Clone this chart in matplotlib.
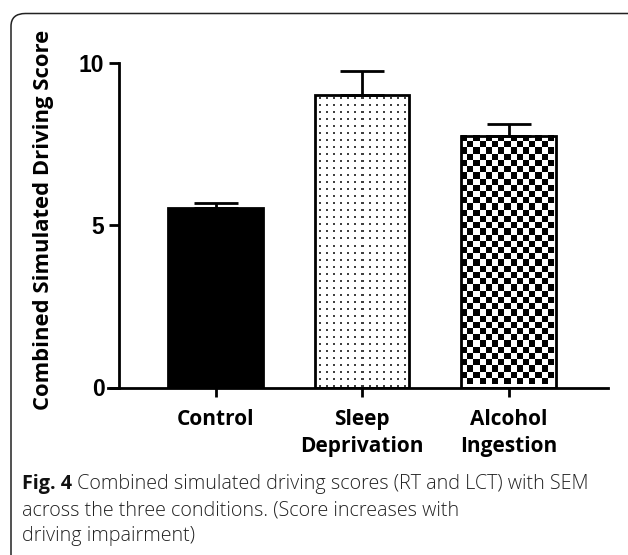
import numpy as np
import matplotlib
matplotlib.use("Agg")
import matplotlib.pyplot as plt
from matplotlib.patches import FancyBboxPatch

# data
conditions = ["Control", "Sleep\nDeprivation", "Alcohol\nIngestion"]
means = [5.52, 9.0, 7.73]
sem = [0.17, 0.75, 0.37]
yticks = [0, 5, 10]
ylabel = "Combined Simulated Driving Score"
cap_bold = "Fig. 4"
cap_rest = [" Combined simulated driving scores (RT and LCT) with SEM",
            "across the three conditions. (Score increases with",
            "driving impairment)"]

W, H, DPI = 628, 555, 100
fig = plt.figure(figsize=(W / DPI, H / DPI), dpi=DPI)

# rounded frame, right/bottom part runs off the picture
frame = FancyBboxPatch((11 / W, 1 - 570 / H), 640 / W, 556.5 / H,
                       boxstyle="round,pad=0,rounding_size=0.023",
                       transform=fig.transFigure, fill=False,
                       edgecolor="#222222", linewidth=1.1)
fig.patches.append(frame)

ax = fig.add_axes([108 / W, (H - 387.5) / H, 500 / W, 357.3 / H])
x = np.arange(len(conditions))
bw = 0.645
lw = 2.0

ax.set_xlim(-0.735, 2.678)
ax.set_ylim(0, 11)

bars = ax.bar(x, means, width=bw, color=["black", "none", "none"],
              edgecolor="black", linewidth=lw, zorder=2)
ax.errorbar(x, means, yerr=[np.zeros(len(sem)), sem], fmt="none",
            ecolor="black", elinewidth=lw, capsize=15.5, capthick=lw, zorder=2.5)

fig.canvas.draw()


def bar_pixels(b):
    (x0, y0), (x1, y1) = ax.transData.transform([(b.get_x(), b.get_y()),
                                                 (b.get_x() + b.get_width(), b.get_height())])
    return abs(x1 - x0), abs(y1 - y0)


# dotted fill for sleep deprivation
b = bars[1]
wpx, hpx = bar_pixels(b)
ny, nx = int(round(hpx)), int(round(wpx))
dots = np.ones((ny, nx))
step = 7
for r in range(3, ny - 1, step):
    for c in range(4, nx - 1, step):
        dots[r:r + 2, c:c + 2] = 0.25
ax.imshow(dots, cmap="gray", vmin=0, vmax=1, interpolation="nearest", aspect="auto",
          extent=(b.get_x(), b.get_x() + b.get_width(), 0, b.get_height()),
          origin="upper", clip_path=b, zorder=1.5)

# checkerboard fill for alcohol ingestion
b = bars[2]
wpx, hpx = bar_pixels(b)
cell = 6.2
nx = int(round(wpx / cell))
ny = int(round(hpx / cell))
chk = (np.add.outer(np.arange(ny), np.arange(nx)) % 2).astype(float)
ax.imshow(chk, cmap="gray", vmin=0, vmax=1, interpolation="nearest", aspect="auto",
          extent=(b.get_x(), b.get_x() + nx * cell * b.get_width() / wpx,
                  b.get_height() - ny * cell * b.get_height() / hpx, b.get_height()),
          origin="upper", clip_path=b, zorder=1.5)

ax.set_xlim(-0.735, 2.678)
ax.set_ylim(0, 11)

for s in ["top", "right"]:
    ax.spines[s].set_visible(False)
ax.spines["left"].set_position(("data", -0.66))
ax.spines["left"].set_bounds(0, 10)
ax.spines["left"].set_linewidth(lw)
ax.spines["bottom"].set_linewidth(lw)

ax.set_yticks(yticks)
ax.set_yticklabels([str(t) for t in yticks], fontfamily="Liberation Sans",
                   fontweight="bold", fontsize=16.5)
ax.tick_params(axis="y", length=7, width=lw, pad=3.5)
ax.set_xticks(x)
ax.set_xticklabels(conditions, fontfamily="Open Sans", fontweight="bold",
                   fontsize=15, linespacing=1.35)
ax.tick_params(axis="x", length=6.5, width=lw, pad=9)

fig.text(44 / W, 1 - 220 / H, ylabel, rotation=90, ha="center", va="center",
         fontfamily="Open Sans", fontweight="bold", fontsize=15.8)

# caption: bold "Fig. 4" followed by light text
x0 = 22 / W
base = [489, 515, 541]
t = fig.text(x0, 1 - base[0] / H, cap_bold, fontfamily="Open Sans", fontweight="bold",
             fontsize=14.2, va="baseline", color="#111111")
fig.canvas.draw()
bb = t.get_window_extent()
fig.text(bb.x1 / W, 1 - base[0] / H, cap_rest[0], fontfamily="Open Sans", fontweight="light",
         fontsize=14.2, va="baseline", color="#222222")
for i in (1, 2):
    fig.text(x0, 1 - base[i] / H, cap_rest[i], fontfamily="Open Sans", fontweight="light",
             fontsize=14.2, va="baseline", color="#222222")

fig.savefig("out.png", dpi=DPI)
